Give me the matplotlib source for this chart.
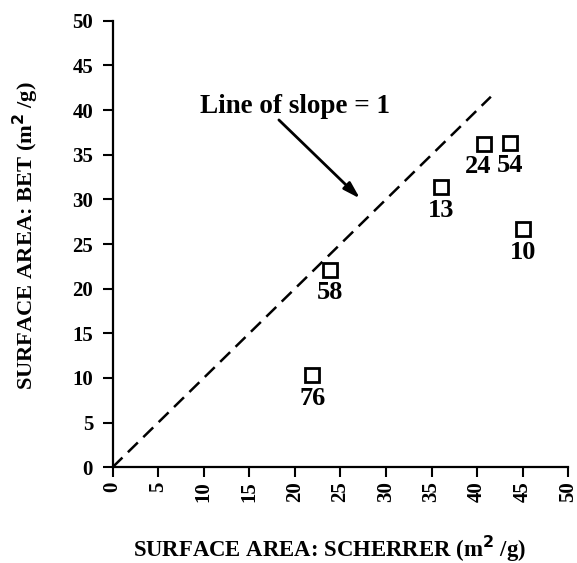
import matplotlib
matplotlib.use("Agg")
import matplotlib.pyplot as plt

# Surface area comparison: Scherrer (XRD) vs BET
scherrer = [21.9, 23.9, 36.0, 40.8, 43.6, 45.0]
bet = [10.3, 22.1, 31.35, 36.2, 36.35, 26.65]
sample_ids = ["76", "58", "13", "24", "54", "10"]
label_dx = [0, 0, 0, -0.7, 0, 0]

ticks = list(range(0, 51, 5))
slope_line_end = 41.5

plt.rcParams["font.family"] = ["Liberation Serif", "DejaVu Serif"]
plt.rcParams["font.weight"] = "bold"
plt.rcParams["lines.scale_dashes"] = False

fig = plt.figure(figsize=(5.77, 5.63), dpi=100)
ax = fig.add_axes([0.195, 0.170, 0.790, 0.793])

ax.plot([0, slope_line_end], [0, slope_line_end], color="black",
        linewidth=1.8, dashes=(10, 5.5))

ax.plot(scherrer, bet, linestyle="none", marker="s", markersize=9.5,
        markerfacecolor="white", markeredgecolor="black", markeredgewidth=2.0)

for x, y, s, dx in zip(scherrer, bet, sample_ids, label_dx):
    ax.text(x + dx, y - 2.55, s, ha="center", va="center",
            fontsize=19, fontweight="bold")

ax.annotate("", xy=(27.15, 30.1), xytext=(18.25, 38.9),
            arrowprops=dict(arrowstyle="-|>,head_length=1.0,head_width=0.3",
                            color="black", linewidth=2.0, shrinkA=0, shrinkB=0))
ax.text(19.97, 40.45, "Line of slope = 1", ha="center", va="center",
        fontsize=19.5, fontweight="bold")

ax.set_xlim(0, 50)
ax.set_ylim(0, 50)
ax.set_xticks(ticks)
ax.set_yticks(ticks)
ax.set_xticklabels([str(t) for t in ticks], rotation=90, fontsize=15,
                   fontweight="bold")
ax.set_yticklabels([str(t) for t in ticks], fontsize=15, fontweight="bold")
ax.tick_params(axis="both", direction="out", length=7, width=1.5)
ax.tick_params(axis="x", pad=3)
ax.tick_params(axis="y", pad=7)

for side in ("top", "right"):
    ax.spines[side].set_visible(False)
for side in ("left", "bottom"):
    ax.spines[side].set_linewidth(1.6)

ax.set_xlabel("SURFACE AREA: SCHERRER (m$^\\mathbf{2}$ /g)", fontsize=16.4,
              fontweight="bold", va="center")
ax.xaxis.set_label_coords(0.477, -0.183)
ax.set_ylabel("SURFACE AREA: BET (m$^\\mathbf{2}$ /g)", fontsize=16.2,
              fontweight="bold", va="center")
ax.yaxis.set_label_coords(-0.189, 0.518)

fig.savefig("out.png", dpi=100)
